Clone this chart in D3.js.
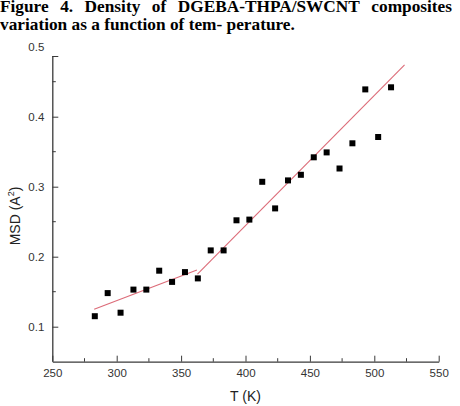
<!DOCTYPE html>
<html>
<head>
<style>
  body { margin: 0; background: #fff; }
  svg { display: block; }
  .axis text { font-family: Arial, "Liberation Sans", sans-serif; font-size: 11.5px; fill: #333; }
</style>
</head>
<body>
<svg width="460" height="406"></svg>
<script src="https://cdn.jsdelivr.net/npm/d3@7"></script>
<script>
// data
const temps = [283, 293, 303, 313, 323, 333, 343, 353, 363, 373, 383, 393,
               403, 413, 423, 433, 443, 453, 463, 473, 483, 493, 503, 513];
const msd = [0.115, 0.148, 0.120, 0.153, 0.153, 0.180, 0.164, 0.178, 0.169, 0.209, 0.209, 0.252,
             0.253, 0.307, 0.269, 0.309, 0.317, 0.342, 0.349, 0.326, 0.362, 0.439, 0.371, 0.442];
// two linear fit segments (end points)
const fitLowT = [282.5, 362.3], fitLowMsd = [0.125, 0.181];
const fitHighT = [362.7, 523.5], fitHighMsd = [0.175, 0.474];
const xTicks = [250, 300, 350, 400, 450, 500, 550];
const yTicks = [0.1, 0.2, 0.3, 0.4, 0.5];
const titleLine1 = "Figure 4. Density of DGEBA-THPA/SWCNT composites";
const titleLine2 = "variation as a function of tem- perature.";

const svg = d3.select("svg");
const x = d3.scaleLinear().domain([250, 550]).range([52.3, 438.7]);
const y = d3.scaleLinear().domain([0.05, 0.5]).range([361.7, 46.7]);
const axisColor = "#3a3a3a";

// title, first line justified
const tfont = '"Liberation Serif", "Times New Roman", serif';
const words = titleLine1.split(" ");
const tg = svg.append("g").attr("font-family", tfont).attr("font-weight", "bold")
    .attr("font-size", 17.3).attr("fill", "#000");
const wNodes = words.map(w => tg.append("text").attr("y", 12.3).text(w));
const widths = wNodes.map(n => n.node().getComputedTextLength());
const left = 0, right = 452;
const gap = (right - left - d3.sum(widths)) / (words.length - 1);
let cx = left;
wNodes.forEach((n, i) => { n.attr("x", cx); cx += widths[i] + gap; });
tg.append("text").attr("x", 0).attr("y", 30.3).text(titleLine2);

// axes
const xAxis = svg.append("g").attr("class", "axis")
    .attr("transform", `translate(0,${y(0.05)})`)
    .call(d3.axisBottom(x).tickValues(xTicks).tickSize(-6).tickPadding(12).tickSizeOuter(0));
xAxis.selectAll(".tick text").attr("dy", "0.32em");
xAxis.selectAll(".tick line").attr("stroke", axisColor);
xAxis.select(".domain").attr("stroke", axisColor).attr("stroke-width", 1.3);
xAxis.append("g").selectAll("line")
    .data(xTicks.slice(0, -1).map(v => v + 25))
    .join("line")
    .attr("x1", d => x(d)).attr("x2", d => x(d))
    .attr("y1", 0).attr("y2", -3.5)
    .attr("stroke", axisColor);

const yAxis = svg.append("g").attr("class", "axis")
    .attr("transform", `translate(${x(250)},0)`)
    .call(d3.axisLeft(y).tickValues(yTicks).tickFormat(d3.format(".1f"))
        .tickSize(-6).tickPadding(8).tickSizeOuter(0));
yAxis.selectAll(".tick line").attr("stroke", axisColor);
// the top tick and axis end sit a little below the 0.5 label in the original
const yEnd = 56;
yAxis.select(".domain").attr("stroke", axisColor).attr("stroke-width", 1.3)
    .attr("d", `M0.5,${y(0.05)}V${yEnd}`);
yAxis.selectAll(".tick").filter(d => d === 0.5).select("line")
    .attr("transform", `translate(0,${yEnd - y(0.5)})`);
yAxis.append("g").selectAll("line")
    .data([0.15, 0.25, 0.35, 0.45])
    .join("line")
    .attr("y1", d => y(d)).attr("y2", d => y(d))
    .attr("x1", 0).attr("x2", 3.5)
    .attr("stroke", axisColor);

// axis titles
const afont = 'Arial, "Liberation Sans", sans-serif';
svg.append("text").attr("x", x(400)).attr("y", 401)
    .attr("text-anchor", "middle").attr("font-family", afont).attr("font-size", 14)
    .attr("fill", "#222").text("T (K)");
const yl = svg.append("text")
    .attr("transform", `translate(20,216) rotate(-90)`)
    .attr("text-anchor", "middle").attr("font-family", afont).attr("font-size", 14)
    .attr("fill", "#222");
yl.append("tspan").text("MSD (A");
yl.append("tspan").attr("font-size", 9).attr("dy", -6).text("2");
yl.append("tspan").attr("dy", 6).text(")");

// fit lines
const line = d3.line().x(d => x(d[0])).y(d => y(d[1]));
[[fitLowT, fitLowMsd], [fitHighT, fitHighMsd]].forEach(([t, m]) => {
    svg.append("path")
        .attr("d", line(d3.zip(t, m)))
        .attr("fill", "none")
        .attr("stroke", "#dc6b78")
        .attr("stroke-width", 1.1);
});

// points
const pts = d3.zip(temps, msd);
svg.append("g").selectAll("rect")
    .data(pts)
    .join("rect")
    .attr("x", d => x(d[0]) - 3)
    .attr("y", d => y(d[1]) - 3)
    .attr("width", 6)
    .attr("height", 6)
    .attr("fill", "#000");
</script>
</body>
</html>
